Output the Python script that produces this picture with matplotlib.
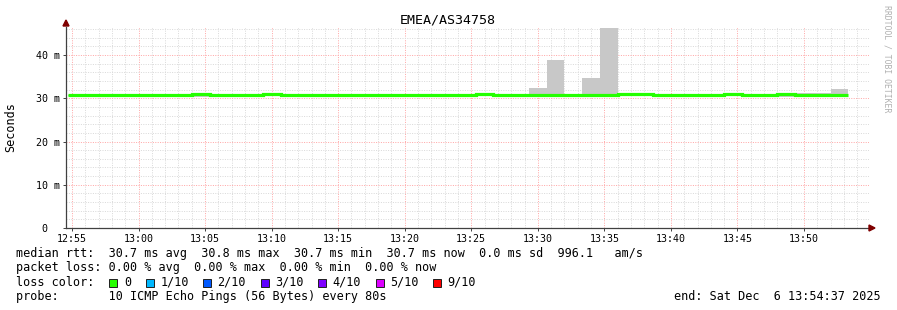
import datetime as dt
import matplotlib
matplotlib.use('Agg')
import matplotlib.pyplot as plt
import matplotlib.dates as mdates
from matplotlib.patches import Polygon, Rectangle

W, H = 897, 310
MONO = 'DejaVu Sans Mono'

TITLE = 'EMEA/AS34758'
START = dt.datetime(2025, 12, 6, 12, 54, 40)
STEP_S = 80

# median rtt per 80s step, ms
median = [30.7, 30.7, 30.7, 30.7, 30.7, 30.7, 30.7, 30.9, 30.7, 30.7,
          30.7, 30.9, 30.7, 30.7, 30.7, 30.7, 30.7, 30.7, 30.7, 30.7,
          30.7, 30.7, 30.7, 30.9, 30.7, 30.7, 30.7, 30.7, 30.7, 30.7,
          30.7, 30.9, 30.9, 30.7, 30.7, 30.7, 30.7, 30.9, 30.7, 30.7,
          30.9, 30.7, 30.7, 30.7]

# smoke (min / max of the 10 pings), ms
smoke_lo = [30.6, 30.6, 30.6, 30.6, 30.6, 30.6, 30.6, 30.4, 30.6, 30.6,
            30.6, 30.6, 30.6, 30.6, 30.6, 30.6, 30.6, 30.6, 30.6, 30.6,
            30.6, 30.6, 30.6, 30.6, 30.6, 30.6, 30.6, 30.6, 30.6, 30.6,
            30.6, 30.6, 30.6, 30.6, 30.6, 30.6, 30.6, 30.6, 30.6, 30.6,
            30.4, 30.6, 30.6, 30.6]
smoke_hi = [30.8, 30.8, 30.8, 30.8, 30.8, 30.8, 30.8, 30.8, 30.8, 30.8,
            30.8, 30.8, 30.8, 30.8, 30.8, 30.8, 30.8, 30.8, 30.8, 30.8,
            30.8, 30.8, 30.8, 30.8, 30.8, 30.8, 32.4, 38.8, 30.8, 34.7,
            46.2, 30.8, 30.8, 30.8, 30.8, 30.8, 30.8, 30.8, 30.8, 30.8,
            30.8, 31.2, 31.2, 32.1]

y_ticks = [0, 10, 20, 30, 40]
y_labels = ['0  ', '10 m', '20 m', '30 m', '40 m']

loss_labels = ['0', '1/10', '2/10', '3/10', '4/10', '5/10', '9/10']
loss_colors = ['#26ff00', '#00b8ff', '#0059ff', '#5e00ff', '#7e00ff', '#dd00ff', '#ff0000']

legend_lines = [
    'median rtt:  30.7 ms avg  30.8 ms max  30.7 ms min  30.7 ms now  0.0 ms sd  996.1   am/s',
    'packet loss: 0.00 % avg  0.00 % max  0.00 % min  0.00 % now',
    'loss color:',
    'probe:       10 ICMP Echo Pings (56 Bytes) every 80s',
]
END_TEXT = 'end: Sat Dec  6 13:54:37 2025'


def fx(px):
    return px / W


def fy(py):
    return 1 - py / H


edges = [START + dt.timedelta(seconds=STEP_S * i) for i in range(len(median) + 1)]
edges_num = mdates.date2num(edges)
width = STEP_S / 86400.0

fig = plt.figure(figsize=(W / 100, H / 100), dpi=100, facecolor='white')
ax = fig.add_axes([fx(66), fy(228), (869 - 66) / W, (228 - 27) / H])

# smoke first, median line on top
heights = [h - l for h, l in zip(smoke_hi, smoke_lo)]
ax.bar(edges_num[:-1], heights, width=width, bottom=smoke_lo, align='edge',
       color='#c8c8c8', linewidth=0, zorder=2)
ax.stairs(median, edges_num, color='#26ff00', linewidth=2.3, baseline=None, zorder=3)

ax.set_xlim(mdates.date2num(dt.datetime(2025, 12, 6, 12, 54, 33)),
            mdates.date2num(dt.datetime(2025, 12, 6, 13, 54, 53)))
ax.set_ylim(0, 46.5)

ax.xaxis.set_major_locator(mdates.MinuteLocator(byminute=range(0, 60, 5)))
ax.xaxis.set_minor_locator(mdates.MinuteLocator())
ax.xaxis.set_major_formatter(mdates.DateFormatter('%H:%M'))
ax.set_yticks(y_ticks)
ax.set_yticklabels(y_labels)
ax.set_yticks(range(0, 47, 2), minor=True)

for lab in ax.get_xticklabels() + ax.get_yticklabels():
    lab.set_fontfamily(MONO)
ax.tick_params(which='major', length=2, width=0.7, color='#404040', labelsize=7.2, pad=2.2)
ax.tick_params(which='minor', length=0)

# dotted grids, 1px on / 1px off
ax.set_axisbelow(True)
ax.grid(which='minor', color='#dadada', linestyle=(0, (1, 1.4)), linewidth=0.72)
ax.grid(which='major', color='#ffa8a8', linestyle=(0, (1, 1.4)), linewidth=0.72)

for s in ['top', 'right']:
    ax.spines[s].set_visible(False)
for s in ['left', 'bottom']:
    ax.spines[s].set_color('#404040')
    ax.spines[s].set_linewidth(0.9)

# axis arrows
fig.patches.append(Polygon([(fx(63), fy(26)), (fx(69), fy(26)), (fx(66), fy(20))],
                           closed=True, color='#7f0000', transform=fig.transFigure))
fig.patches.append(Polygon([(fx(869), fy(225)), (fx(869), fy(231)), (fx(875), fy(228))],
                           closed=True, color='#7f0000', transform=fig.transFigure))

fig.text(fx(448), fy(20), TITLE, family=MONO, size=9.6, ha='center', va='center')
fig.text(fx(11), fy(127), 'Seconds', family=MONO, size=8.5, rotation=90,
         ha='center', va='center')
fig.text(fx(887), fy(59), 'RRDTOOL / TOBI OETIKER', family=MONO, size=5.9,
         rotation=270, ha='center', va='center', color='#b0b0b0')

line_y = [254, 268, 282.3, 296.7]
for txt, y in zip(legend_lines, line_y):
    fig.text(fx(16), fy(y), txt, family=MONO, size=8.5, va='center')
fig.text(fx(881), fy(line_y[3]), END_TEXT, family=MONO, size=8.5, va='center', ha='right')

box_x = [108.5, 145.5, 202.5, 260.5, 317.5, 375.5, 432.5]
label_x = [124, 160.5, 217, 275, 332.5, 390, 447]
for bx, lx, col, lab in zip(box_x, label_x, loss_colors, loss_labels):
    fig.patches.append(Rectangle((fx(bx), fy(286.5)), 8 / W, 8 / H, facecolor=col,
                                 edgecolor='#202020', linewidth=0.7,
                                 transform=fig.transFigure))
    fig.text(fx(lx), fy(line_y[2]), lab, family=MONO, size=8.5, va='center')

fig.savefig('out.png', dpi=100, facecolor='white')
